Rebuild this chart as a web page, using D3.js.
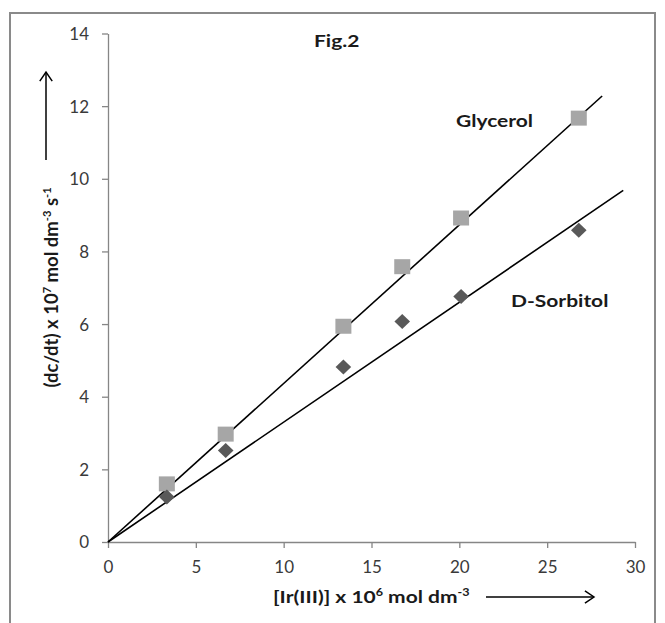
<!DOCTYPE html>
<html>
<head>
<meta charset="utf-8">
<script src="https://cdn.jsdelivr.net/npm/d3@7.9.0/dist/d3.min.js"></script>
<style>
  body { margin: 0; background: #fff; }
  svg { display: block; font-family: Lato, sans-serif; }
</style>
</head>
<body>
<svg id="chart" width="665" height="623"></svg>
<script>
// concentrations [Ir(III)] x 10^6
const conc = [3.35, 6.7, 13.4, 16.75, 20.1, 26.8];
const glycerol = [1.6, 2.97, 5.94, 7.58, 8.92, 11.67];
const sorbitol = [1.24, 2.52, 4.82, 6.07, 6.76, 8.58];
// fitted lines through origin
const glycerolFit = [[0, 0], [28.13, 12.28]];
const sorbitolFit = [[0, 0], [29.33, 9.68]];
const xTicks = [0, 5, 10, 15, 20, 25, 30];
const yTicks = [0, 2, 4, 6, 8, 10, 12, 14];

const SX = 1.2; // horizontal stretch of the bold labels

const svg = d3.select('#chart');

// outer frame
svg.append('rect')
  .attr('x', 10).attr('y', 13)
  .attr('width', 645).attr('height', 640)
  .attr('fill', 'none')
  .attr('stroke', '#8a8a8a')
  .attr('stroke-width', 2);

const x = d3.scaleLinear().domain([0, 30]).range([108, 635]);
const y = d3.scaleLinear().domain([0, 14]).range([542, 33.5]);

const xAxis = svg.append('g')
  .attr('transform', `translate(0,${y(0)})`)
  .call(d3.axisBottom(x).tickValues(xTicks).tickSizeInner(6).tickSizeOuter(0));
const yAxis = svg.append('g')
  .attr('transform', `translate(${x(0)},0)`)
  .call(d3.axisLeft(y).tickValues(yTicks).tickSizeInner(6).tickSizeOuter(0));

[xAxis, yAxis].forEach(g => {
  g.select('.domain').attr('stroke', '#868686').attr('stroke-width', 1.3);
  g.selectAll('.tick line').attr('stroke', '#868686').attr('stroke-width', 1.3);
  g.selectAll('.tick text')
    .attr('fill', '#3a3a3a')
    .style('font-size', '17px')
    .style('font-family', 'Lato, sans-serif');
});
xAxis.selectAll('.tick text').attr('y', 25).attr('dy', '0.35em');
yAxis.selectAll('.tick text').attr('x', -19).attr('dy', '0.35em');

// fit lines
const line = d3.line().x(d => x(d[0])).y(d => y(d[1]));
[glycerolFit, sorbitolFit].forEach(f => {
  svg.append('path')
    .attr('d', line(f))
    .attr('fill', 'none')
    .attr('stroke', '#000')
    .attr('stroke-width', 1.6);
});

// glycerol squares
svg.append('g').selectAll('rect')
  .data(conc.map((c, i) => [c, glycerol[i]]))
  .join('rect')
  .attr('x', d => x(d[0]) - 8)
  .attr('y', d => y(d[1]) - 7.5)
  .attr('width', 16)
  .attr('height', 15)
  .attr('fill', '#a6a6a6');

// sorbitol diamonds
svg.append('g').selectAll('path')
  .data(conc.map((c, i) => [c, sorbitol[i]]))
  .join('path')
  .attr('transform', d => `translate(${x(d[0])},${y(d[1])})`)
  .attr('d', 'M0,-7.5L7.8,0L0,7.5L-7.8,0Z')
  .attr('fill', '#595959');

// horizontal bold text helper
function label(tx, ty, parts, size) {
  const t = svg.append('g')
    .attr('transform', `translate(${tx},${ty}) scale(${SX},1)`)
    .append('text')
    .attr('font-weight', 'bold')
    .attr('font-size', size)
    .attr('fill', '#1a1a1a');
  parts.forEach(p => {
    t.append('tspan')
      .attr('font-size', p.sup ? size * 0.6 : size)
      .attr('dy', p.sup ? -size * 0.4 : (p.after ? size * 0.4 : 0))
      .text(p.t);
  });
  return t;
}

label(314, 47, [{ t: 'Fig.2' }], 17.5);
label(456, 127, [{ t: 'Glycerol' }], 17.5);
label(511, 307, [{ t: 'D-Sorbitol' }], 17.5);
label(273, 603, [
  { t: '[Ir(III)] x 10' }, { t: '6', sup: true }, { t: ' mol dm', after: true },
  { t: '-3', sup: true }
], 17.5);

// y title (rotated)
const ys = 18.5;
const yt = svg.append('text')
  .attr('transform', `translate(58,287.5) rotate(-90)`)
  .attr('text-anchor', 'middle')
  .attr('font-weight', 'bold')
  .attr('font-size', ys)
  .attr('fill', '#1a1a1a');
[['(dc/dt) x 10', 0], ['7', 1], [' mol dm', 2], ['-3', 1], [' s', 2], ['-1', 1]].forEach(([s, k]) => {
  yt.append('tspan')
    .attr('font-size', k === 1 ? ys * 0.6 : ys)
    .attr('dy', k === 1 ? -ys * 0.4 : (k === 2 ? ys * 0.4 : 0))
    .text(s);
});

// arrows
function arrow(x1, y1, x2, y2) {
  svg.append('line')
    .attr('x1', x1).attr('y1', y1).attr('x2', x2).attr('y2', y2)
    .attr('stroke', '#000').attr('stroke-width', 1.5);
  const a = Math.atan2(y2 - y1, x2 - x1), L = 11, w = 0.6;
  svg.append('path')
    .attr('d', `M${x2 - L * Math.cos(a - w)},${y2 - L * Math.sin(a - w)}L${x2},${y2}L${x2 - L * Math.cos(a + w)},${y2 - L * Math.sin(a + w)}`)
    .attr('fill', 'none').attr('stroke', '#000').attr('stroke-width', 1.5);
}
arrow(46, 160, 46, 72);
arrow(486, 597, 594, 597);
</script>
</body>
</html>
